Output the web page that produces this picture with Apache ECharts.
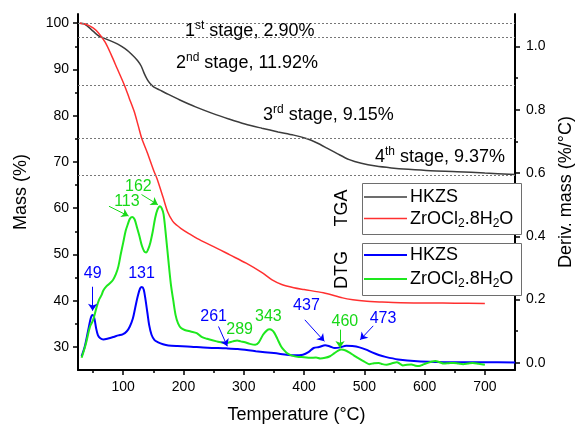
<!DOCTYPE html>
<html>
<head>
<meta charset="utf-8">
<script src="https://cdn.jsdelivr.net/npm/echarts@6/dist/echarts.min.js"></script>
<style>html,body{margin:0;padding:0;background:#fff}#c{width:583px;height:429px}</style>
</head>
<body>
<div id="c"></div>
<script>
// ---------------- DATA ----------------
const xTicks = [100, 200, 300, 400, 500, 600, 700];
const xMinorTicks = [50, 150, 250, 350, 450, 550, 650];
const massTicks = [30, 40, 50, 60, 70, 80, 90, 100];
const massMinorTicks = [35, 45, 55, 65, 75, 85, 95];
const derivTicks = [0, 0.2, 0.4, 0.6, 0.8, 1.0];
const derivMinorTicks = [0.1, 0.3, 0.5, 0.7, 0.9];
const stageLevels = [100, 96.9, 86.6, 75.1, 67.2];

const tgaHkzs = [[28,100],[35,99.9],[42,99.2],[50,98.3],[59,97.3],[75,96.4],[91,95.5],[103,94.5],[113,93.4],[124,91.9],[130,90.7],[135,89.1],[140,87.8],[145,86.9],[151,86.2],[160,85.6],[175,84.6],[194,83.4],[220,81.9],[248,80.5],[275,79.3],[302,78.2],[330,77.3],[357,76.5],[383,75.8],[405,75.0],[420,74.2],[438,73.0],[455,71.8],[475,70.5],[495,69.7],[519,69.1],[545,68.7],[573,68.4],[610,68.1],[654,67.9],[700,67.6],[750,67.3]];

const tgaZr = [[28,100],[38,99.8],[50,99.0],[59,97.9],[70,95.9],[80,93.2],[90,90.2],[102,86.6],[110,83.8],[118,81.0],[125,77.8],[131,75.0],[140,72.0],[151,68.0],[156,66.4],[166,62.4],[174,59.1],[182,57.2],[189,56.3],[196,55.6],[209,54.5],[223,53.4],[250,51.7],[277,49.9],[304,48.1],[331,46.0],[347,44.5],[363,43.5],[383,42.8],[400,42.4],[432,41.7],[464,40.6],[481,40.2],[500,39.9],[529,39.7],[560,39.55],[610,39.5],[650,39.45],[700,39.4]];

const dtgHkzs = [[31,0.021],[36,0.05],[42,0.104],[46,0.14],[49,0.151],[52,0.142],[55,0.11],[58,0.088],[62,0.078],[67,0.074],[75,0.077],[84,0.082],[92,0.087],[99,0.09],[106,0.1],[111,0.115],[116,0.14],[120,0.175],[124,0.21],[128,0.235],[131,0.24],[134,0.232],[137,0.2],[140,0.16],[143,0.12],[147,0.089],[152,0.072],[158,0.065],[166,0.059],[175,0.055],[190,0.053],[206,0.052],[240,0.048],[271,0.046],[290,0.044],[320,0.037],[350,0.031],[383,0.024],[398,0.026],[408,0.035],[416,0.047],[425,0.05],[435,0.056],[443,0.052],[451,0.047],[460,0.049],[470,0.054],[480,0.053],[492,0.049],[503,0.042],[513,0.033],[524,0.025],[535,0.019],[556,0.011],[588,0.005],[620,0.003],[664,0.002],[700,0.002],[750,0.001]];

const dtgZr = [[31,0.016],[38,0.06],[45,0.115],[50,0.135],[56,0.177],[60,0.2],[64,0.214],[67,0.229],[72,0.242],[77,0.25],[83,0.262],[88,0.281],[92,0.305],[96,0.344],[100,0.38],[104,0.417],[108,0.44],[111,0.455],[115,0.461],[119,0.453],[123,0.427],[127,0.4],[131,0.37],[135,0.352],[138,0.349],[141,0.357],[145,0.38],[149,0.415],[153,0.458],[157,0.485],[161,0.495],[164,0.488],[167,0.469],[171,0.4],[175,0.323],[179,0.25],[183,0.198],[187,0.15],[191,0.125],[196,0.11],[202,0.104],[212,0.099],[222,0.094],[230,0.082],[239,0.076],[255,0.068],[271,0.063],[282,0.068],[289,0.071],[295,0.068],[302,0.065],[310,0.06],[319,0.057],[325,0.065],[332,0.089],[338,0.102],[343,0.106],[347,0.103],[351,0.094],[356,0.075],[362,0.052],[368,0.038],[373,0.029],[380,0.023],[389,0.019],[400,0.018],[410,0.016],[420,0.017],[427,0.014],[435,0.016],[443,0.021],[450,0.03],[456,0.038],[462,0.042],[468,0.04],[475,0.033],[483,0.023],[492,0.0125],[500,0.004],[508,-0.004],[516,-0.001],[524,0.0],[530,-0.004],[537,-0.006],[545,-0.002],[554,0.002],[560,-0.004],[564,-0.008],[571,-0.006],[578,-0.005],[585,-0.009],[591,-0.01],[597,-0.006],[602,-0.002],[610,0.003],[618,0.006],[625,0.002],[632,-0.002],[640,-0.001],[648,0.0],[656,-0.002],[664,-0.004],[672,-0.002],[680,0.0],[690,-0.003],[700,-0.006]];

// peak annotations (label text, label position, arrow start/end in data units)
const blueNotes = [
  {t:'49',  at:[49.3,0.2816], arrow:[[49.3,0.2406],[49.3,0.165]]},
  {t:'131', at:[130.4,0.2816]},
  {t:'261', at:[250,0.146],  arrow:[[258.1,0.115],[272.7,0.0525]]},
  {t:'437', at:[404,0.18],   arrow:[[401.3,0.136],[433.7,0.068]]},
  {t:'473', at:[531,0.141],  arrow:[[514.8,0.117],[493.2,0.073]]}
];
const greenNotes = [
  {t:'113', at:[106.1,0.511], arrow:[[76.4,0.495],[108.9,0.464]]},
  {t:'162', at:[125.1,0.558], arrow:[[130.4,0.532],[157.5,0.5]]},
  {t:'289', at:[293.1,0.105]},
  {t:'343', at:[340.8,0.146]},
  {t:'460', at:[467.8,0.131], arrow:[[459.7,0.105],[459.7,0.047]]}
];

// ---------------- STYLE ----------------
const FF = '"Liberation Sans", Arial, sans-serif';
const C_GRAY = '#3c3c3c', C_RED = '#ff3030', C_BLUE = '#0000ff', C_GREEN = '#1ee81e';

function mk(notes, color) {
  return {
    markPoint: {
      silent: true, symbol: 'circle', symbolSize: 1,
      itemStyle: {color: 'rgba(0,0,0,0)'},
      label: {show: true, position: 'inside', formatter: p => p.name, color: color, fontSize: 16, fontFamily: FF},
      data: notes.map(n => ({name: n.t, coord: n.at}))
    },
    markLine: {
      silent: true, symbol: ['none', 'arrow'], symbolSize: 7,
      label: {show: false},
      lineStyle: {color: color, width: 1, type: 'solid'},
      data: notes.filter(n => n.arrow).map(n => [{coord: n.arrow[0]}, {coord: n.arrow[1]}])
    }
  };
}

const axisLine = {show: true, lineStyle: {color: '#000', width: 2}};
const chart = echarts.init(document.getElementById('c'), null, {renderer: 'canvas'});

const sup = {fontSize: 12, fontFamily: FF, verticalAlign: 'top', lineHeight: 12, fill: '#000'};
const sub = {fontSize: 12, fontFamily: FF, verticalAlign: 'bottom', lineHeight: 12, fill: '#000'};
const nrm = {fontSize: 18, fontFamily: FF, lineHeight: 22, fill: '#000'};

function txt(x, y, text, extra) {
  return Object.assign({type: 'text', x: x, y: y, z: 50,
    style: {text: text, fontSize: 18, fontFamily: FF, fill: '#000', verticalAlign: 'middle',
            rich: {n: nrm, s: sup, b: sub}}}, extra || {});
}

chart.setOption({
  animation: false,
  backgroundColor: '#fff',
  grid: {left: 78, right: 58, top: 14, bottom: 55, containLabel: false},
  xAxis: [
    {type: 'value', min: 25, max: 750, position: 'bottom',
     name: 'Temperature (°C)', nameLocation: 'middle', nameGap: 36,
     nameTextStyle: {fontSize: 18, fontFamily: FF, color: '#000'},
     axisLine: Object.assign({onZero: false}, axisLine),
     axisTick: {show: true, inside: false, length: 5, customValues: xTicks, lineStyle: {color: '#000', width: 1.5}},
     axisLabel: {show: true, customValues: xTicks, fontSize: 14, fontFamily: FF, color: '#000', margin: 10},
     splitLine: {show: false}},
    {type: 'value', min: 25, max: 750, position: 'bottom',
     axisLine: {show: false, onZero: false},
     axisTick: {show: true, length: 3, customValues: xMinorTicks, lineStyle: {color: '#000', width: 1.5}},
     axisLabel: {show: false}, splitLine: {show: false}}
  ],
  yAxis: [
    {type: 'value', min: 25, max: 102, position: 'left',
     name: 'Mass (%)', nameLocation: 'middle', nameGap: 48,
     nameTextStyle: {fontSize: 18, fontFamily: FF, color: '#000'},
     axisLine: Object.assign({onZero: false}, axisLine),
     axisTick: {show: true, length: 5, customValues: massTicks, lineStyle: {color: '#000', width: 1.5}},
     axisLabel: {show: true, customValues: massTicks, fontSize: 14, fontFamily: FF, color: '#000', margin: 9},
     splitLine: {show: false}},
    {type: 'value', min: -0.0225, max: 1.1025, position: 'right',
     name: 'Deriv. mass (%/°C)', nameLocation: 'middle', nameGap: 42, nameRotate: 90,
     nameTextStyle: {fontSize: 18, fontFamily: FF, color: '#000'},
     axisLine: Object.assign({onZero: false}, axisLine),
     axisTick: {show: true, length: 5, customValues: derivTicks, lineStyle: {color: '#000', width: 1.5}},
     axisLabel: {show: true, customValues: derivTicks, formatter: v => v.toFixed(1), fontSize: 14, fontFamily: FF, color: '#000', margin: 11},
     splitLine: {show: false}},
    {type: 'value', min: 25, max: 102, position: 'left',
     axisLine: {show: false, onZero: false},
     axisTick: {show: true, length: 3, customValues: massMinorTicks, lineStyle: {color: '#000', width: 1.5}},
     axisLabel: {show: false}, splitLine: {show: false}},
    {type: 'value', min: -0.0225, max: 1.1025, position: 'right',
     axisLine: {show: false, onZero: false},
     axisTick: {show: true, length: 3, customValues: derivMinorTicks, lineStyle: {color: '#000', width: 1.5}},
     axisLabel: {show: false}, splitLine: {show: false}}
  ],
  series: [
    {name: 'TGA HKZS', type: 'line', xAxisIndex: 0, yAxisIndex: 0, data: tgaHkzs,
     showSymbol: false, smooth: 0.3, lineStyle: {color: C_GRAY, width: 1.5}, z: 3,
     markLine: {silent: true, symbol: 'none', label: {show: false},
       lineStyle: {color: '#777', width: 1, type: [2, 2]},
       data: stageLevels.map(v => ({yAxis: v}))}},
    {name: 'TGA ZrOCl2', type: 'line', xAxisIndex: 0, yAxisIndex: 0, data: tgaZr,
     showSymbol: false, smooth: 0.3, lineStyle: {color: C_RED, width: 1.5}, z: 3},
    Object.assign({name: 'DTG HKZS', type: 'line', xAxisIndex: 0, yAxisIndex: 1, data: dtgHkzs,
     showSymbol: false, smooth: 0.3, lineStyle: {color: C_BLUE, width: 2}, z: 4}, mk(blueNotes, C_BLUE)),
    Object.assign({name: 'DTG ZrOCl2', type: 'line', xAxisIndex: 0, yAxisIndex: 1, data: dtgZr,
     showSymbol: false, smooth: 0.3, lineStyle: {color: C_GREEN, width: 2}, z: 4}, mk(greenNotes, '#18d818'))
  ],
  graphic: [
    txt(185, 31, '{n|1}{s|st}{n| stage, 2.90%}'),
    txt(176, 63, '{n|2}{s|nd}{n| stage, 11.92%}'),
    txt(263, 115, '{n|3}{s|rd}{n| stage, 9.15%}'),
    txt(375, 157, '{n|4}{s|th}{n| stage, 9.37%}'),
    // legend boxes
    {type: 'rect', z: 40, shape: {x: 362.5, y: 183.5, width: 159, height: 51}, style: {fill: '#fff', stroke: '#6e6e6e', lineWidth: 1}},
    {type: 'rect', z: 40, shape: {x: 362.5, y: 243.5, width: 159, height: 52}, style: {fill: '#fff', stroke: '#6e6e6e', lineWidth: 1}},
    {type: 'line', z: 45, shape: {x1: 364, y1: 197, x2: 407, y2: 197}, style: {stroke: C_GRAY, lineWidth: 1.5}},
    {type: 'line', z: 45, shape: {x1: 364, y1: 218.5, x2: 407, y2: 218.5}, style: {stroke: C_RED, lineWidth: 1.5}},
    {type: 'line', z: 45, shape: {x1: 364, y1: 255, x2: 407, y2: 255}, style: {stroke: C_BLUE, lineWidth: 2}},
    {type: 'line', z: 45, shape: {x1: 364, y1: 279, x2: 407, y2: 279}, style: {stroke: C_GREEN, lineWidth: 2}},
    txt(410, 197, 'HKZS'),
    txt(410, 219, '{n|ZrOCl}{b|2}{n|.8H}{b|2}{n|O}'),
    txt(410, 255, 'HKZS'),
    txt(410, 279, '{n|ZrOCl}{b|2}{n|.8H}{b|2}{n|O}'),
    {type: 'text', z: 50, x: 342, y: 208, rotation: Math.PI / 2,
     style: {text: 'TGA', fontSize: 18, fontFamily: FF, fill: '#000', align: 'center', verticalAlign: 'middle'}},
    {type: 'text', z: 50, x: 342, y: 270, rotation: Math.PI / 2,
     style: {text: 'DTG', fontSize: 18, fontFamily: FF, fill: '#000', align: 'center', verticalAlign: 'middle'}}
  ]
});
</script>
</body>
</html>
